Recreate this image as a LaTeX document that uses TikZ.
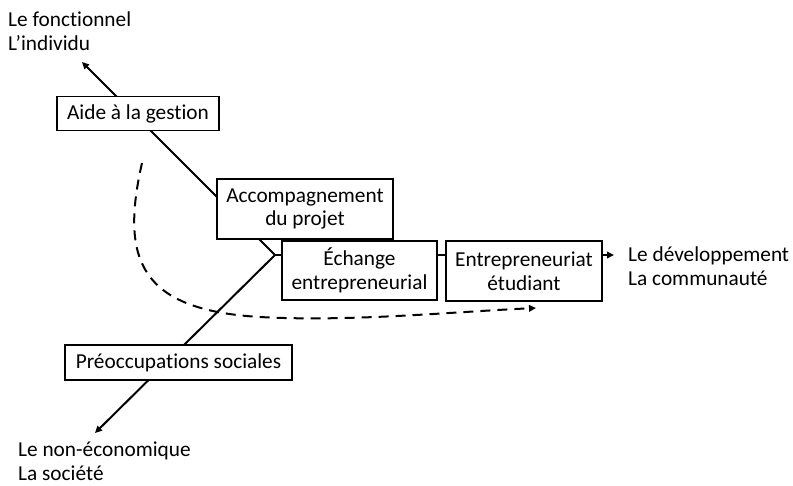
\documentclass[tikz,border=0pt]{standalone}
\usepackage{fontspec}
\setmainfont[Ligatures=NoCommon]{Carlito}
\usetikzlibrary{arrows.meta}
\tikzset{x=1pt, y=-1pt, every node/.append style={font=\fontsize{21.3}{23.5}\selectfont},
    bloc/.style={draw, fill=white, line width=1.2pt, align=center, inner sep=2pt},
    axe/.style={line width=2pt},
    fleche/.style={line width=2pt, -{Triangle[length=7pt,width=6.5pt]}},
    pole/.style={align=left, inner sep=0pt, anchor=west}}

\begin{document}
\begin{tikzpicture}
                \useasboundingbox (0,0) rectangle (793,485);
                % points des axes
                \coordinate (centre) at (275,255);
                \coordinate (haut) at (82,62);
                \coordinate (bas) at (95,433);
                \coordinate (droite) at (614,255);
                \coordinate (debut) at (142,163);
                \coordinate (fin) at (536,308);
                \draw[fleche] (centre) -- (haut);
                \draw[fleche] (centre) -- (bas);
                \draw[fleche, dash pattern=on 10pt off 7pt]
                    (debut) .. controls (120,260) and (140,310) .. (260,317)
                    .. controls (350,322) and (450,312) .. (fin);
                % les blocs
                \node[bloc, minimum width=162pt, minimum height=34pt] (aide) at (138,113.5) {Aide à la gestion};
                \node[bloc, minimum width=176pt, minimum height=60pt] (accomp) at (305,209) {Accompagnement\\du projet};
                \node[bloc, minimum width=155pt, minimum height=59pt] (echange) at (359.5,270.5) {Échange\\entrepreneurial};
                \node[bloc, minimum width=156pt, minimum height=60pt] (etud) at (524,271) {Entrepreneuriat\\étudiant};
                \node[bloc, minimum width=227pt, minimum height=35pt] (preocc) at (178.5,362.5) {Préoccupations sociales};
                \draw[axe] (centre) -- (centre -| echange.west);
                \draw[axe] (echange.east |- centre) -- (etud.west |- centre);
                \draw[fleche] (etud.east |- centre) -- (droite);
                % les pôles
                \node[pole] (fonc) at (8,31) {Le fonctionnel\\L’individu};
                \node[pole] (dev) at (628,266) {Le développement\\La communauté};
                \node[pole] (noneco) at (18,461) {Le non-économique\\La société};
            \end{tikzpicture}
\end{document}
